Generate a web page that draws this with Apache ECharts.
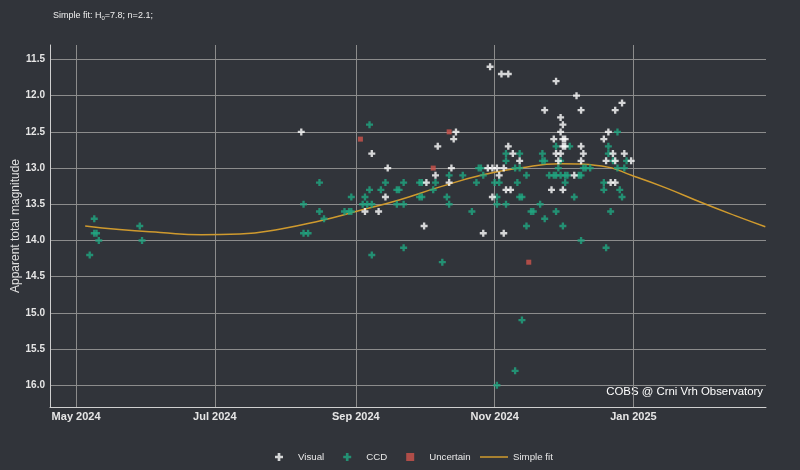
<!DOCTYPE html>
<html>
<head>
<meta charset="utf-8">
<script src="https://cdn.jsdelivr.net/npm/echarts@6/dist/echarts.min.js"></script>
<style>
html,body{margin:0;padding:0;background:#31343a;}
#chart{width:800px;height:470px;}
</style>
</head>
<body>
<div id="chart"></div>
<script>
// ---- Data ----
const visual = [
  ['2024-08-08',12.5],['2024-09-08',12.8],['2024-09-15',13.0],['2024-09-14',13.4],['2024-09-11',13.6],
  ['2024-09-05',13.6],['2024-10-01',13.8],['2024-10-07',12.7],['2024-10-06',13.1],['2024-10-12',13.2],
  ['2024-10-13',13.0],['2024-10-14',12.6],['2024-10-15',12.5],['2024-10-02',13.2],['2024-10-30',11.6],
  ['2024-11-04',11.7],['2024-11-07',11.7],['2024-11-28',11.8],['2024-12-07',12.0],['2024-12-27',12.1],
  ['2024-11-23',12.2],['2024-12-09',12.2],['2024-12-24',12.2],['2024-11-30',12.3],['2024-12-01',12.4],
  ['2024-11-30',12.5],['2024-12-21',12.5],['2024-11-27',12.6],['2024-12-01',12.6],['2024-12-02',12.6],
  ['2024-12-19',12.6],['2024-11-07',12.7],['2024-12-01',12.7],['2024-12-02',12.7],['2024-12-09',12.7],
  ['2024-11-09',12.8],['2024-11-28',12.8],['2024-11-30',12.8],['2024-12-10',12.8],['2024-12-23',12.8],
  ['2024-12-28',12.8],['2024-11-12',12.9],['2024-11-29',12.9],['2024-12-09',12.9],['2024-12-20',12.9],
  ['2024-12-24',12.9],['2024-12-31',12.9],['2024-10-29',13.0],['2024-10-31',13.0],['2024-11-02',13.0],
  ['2024-11-05',13.0],['2024-11-03',13.1],['2024-12-06',13.1],['2024-11-06',13.3],['2024-11-08',13.3],
  ['2024-11-26',13.3],['2024-12-01',13.3],['2024-12-22',13.2],['2024-12-24',13.2],['2024-10-31',13.4],
  ['2024-10-27',13.9],['2024-11-05',13.9]
];
const ccd = [
  ['2024-05-09',13.7],['2024-05-09',13.9],['2024-05-10',13.9],['2024-05-11',14.0],['2024-05-07',14.2],
  ['2024-05-29',13.8],['2024-05-30',14.0],['2024-09-07',12.4],['2024-08-16',13.2],['2024-08-09',13.5],
  ['2024-08-16',13.6],['2024-08-18',13.7],['2024-08-09',13.9],['2024-08-11',13.9],['2024-08-30',13.4],
  ['2024-08-27',13.6],['2024-08-29',13.6],['2024-08-30',13.6],['2024-09-04',13.5],['2024-09-06',13.5],
  ['2024-09-08',13.5],['2024-09-05',13.4],['2024-09-07',13.3],['2024-09-12',13.3],['2024-09-14',13.2],
  ['2024-09-19',13.3],['2024-09-20',13.3],['2024-09-22',13.2],['2024-09-19',13.5],['2024-09-22',13.5],
  ['2024-09-29',13.4],['2024-09-30',13.4],['2024-09-29',13.2],['2024-09-30',13.2],['2024-10-06',13.2],
  ['2024-10-05',13.3],['2024-10-12',13.1],['2024-10-18',13.1],['2024-10-25',13.0],['2024-10-24',13.2],
  ['2024-10-11',13.4],['2024-10-12',13.5],['2024-10-22',13.6],['2024-09-22',14.1],['2024-09-08',14.2],
  ['2024-10-09',14.3],['2024-11-13',15.1],['2024-11-10',15.8],['2024-11-02',16.0],['2024-12-25',12.5],
  ['2024-12-21',12.7],['2024-11-06',12.8],['2024-11-12',12.8],['2024-11-22',12.8],['2024-12-21',12.8],
  ['2024-11-06',12.9],['2024-11-22',12.9],['2024-11-23',12.9],['2024-11-30',12.9],['2024-12-23',12.9],
  ['2024-12-29',12.9],['2024-11-28',12.7],['2024-12-04',12.7],['2024-10-26',13.0],['2024-11-10',13.0],
  ['2024-11-12',13.0],['2024-11-29',13.0],['2024-12-10',13.0],['2024-12-11',13.0],['2024-12-13',13.0],
  ['2024-12-25',13.0],['2024-12-28',13.0],['2024-10-27',13.1],['2024-11-15',13.1],['2024-11-25',13.1],
  ['2024-11-27',13.1],['2024-11-28',13.1],['2024-11-30',13.1],['2024-12-02',13.1],['2024-12-03',13.1],
  ['2024-12-08',13.1],['2024-12-09',13.1],['2024-11-01',13.2],['2024-11-03',13.2],['2024-11-11',13.2],
  ['2024-12-02',13.2],['2024-12-19',13.2],['2024-11-02',13.4],['2024-11-12',13.4],['2024-11-13',13.4],
  ['2024-12-06',13.4],['2024-12-19',13.3],['2024-12-26',13.3],['2024-12-27',13.4],['2024-11-02',13.5],
  ['2024-11-06',13.5],['2024-11-21',13.5],['2024-11-17',13.6],['2024-11-18',13.6],['2024-11-28',13.6],
  ['2024-12-22',13.6],['2024-11-23',13.7],['2024-11-15',13.8],['2024-12-01',13.8],['2024-12-09',14.0],
  ['2024-12-20',14.1]
];
const uncertain = [
  ['2024-09-03',12.6],['2024-10-12',12.5],['2024-10-05',13.0],['2024-11-16',14.3]
];
const simpleFit = [
  ['2024-05-05',13.80],['2024-05-20',13.85],['2024-06-07',13.89],['2024-06-25',13.92],['2024-07-12',13.91],
  ['2024-07-30',13.84],['2024-08-16',13.73],['2024-09-01',13.60],['2024-09-20',13.44],['2024-10-08',13.26],
  ['2024-10-26',13.10],['2024-11-12',13.00],['2024-11-30',12.94],['2024-12-18',12.97],['2025-01-01',13.11],
  ['2025-01-15',13.27],['2025-02-01',13.49],['2025-02-15',13.66],['2025-02-28',13.81]
];
const monthNames = ['Jan','Feb','Mar','Apr','May','Jun','Jul','Aug','Sep','Oct','Nov','Dec'];
const titleText = 'Simple fit: H{sub|0}=7.8; n=2.1;';
const creditText = 'COBS @ Crni Vrh Observatory';

// ---- Chart ----
const plus = 'path://M2,0H4V2H6V4H4V6H2V4H0V2H2Z';
const square = 'path://M0,0H6V6H0Z';
const lineIcon = 'path://M0,0H0.01V0.01H0Z M0,3.3H28V4.7H0Z M27.99,7.99H28V8H27.99Z';
const FONT = 'Liberation Sans, Arial, sans-serif';
const legendText = {color:'#e8e8e8', fontSize: 9.7, fontFamily: FONT};
const chart = echarts.init(document.getElementById('chart'), null, {renderer:'canvas'});
chart.setOption({
  backgroundColor: '#31343a',
  animation: false,
  textStyle: {fontFamily: FONT},
  title: {text: titleText, left: 48, top: 6,
    textStyle: {color:'#f0f0f0', fontSize: 9, fontWeight:'normal', fontFamily: FONT,
      rich: {sub: {fontSize: 6, verticalAlign: 'bottom', padding: [4,0,0,0], color:'#f0f0f0'}}}},
  grid: {left: 50, right: 34, top: 45, bottom: 63, containLabel: false, outerBoundsMode: 'none'},
  legend: [{
    left: 270, top: 447, itemWidth: 28, itemHeight: 8, itemGap: 19,
    textStyle: legendText,
    data: ['Visual','CCD','Uncertain']
  }, {
    left: 475, top: 447, itemWidth: 28, itemHeight: 8,
    textStyle: legendText,
    data: [{name:'Simple fit', icon: lineIcon}]
  }],
  xAxis: {
    type: 'time',
    min: '2024-04-19 13:00', max: '2025-02-28 07:00',
    splitNumber: 5,
    axisLine: {show: true, lineStyle: {color:'#cfcfcf', width: 1}},
    axisTick: {show: false},
    axisLabel: {color:'#e6e6e6', fontSize: 11, fontWeight:'bold', margin: 4, fontFamily: FONT,
      formatter: function (v) { const d = new Date(v); return monthNames[d.getMonth()] + ' ' + d.getFullYear(); }},
    splitLine: {show: true, showMinLine: false, showMaxLine: false, lineStyle: {color:'#8c8c8c', width: 1}}
  },
  yAxis: {
    type: 'value', inverse: true, min: 11.3, max: 16.3, splitNumber: 10,
    name: 'Apparent total magnitude', nameLocation: 'middle', nameGap: 28, nameMoveOverlap: false,
    nameTextStyle: {color:'#e0e0e0', fontSize: 12, fontFamily: FONT},
    axisLine: {show: true, lineStyle: {color:'#cfcfcf', width: 1}},
    axisTick: {show: false},
    axisLabel: {color:'#e6e6e6', fontSize: 10, fontWeight:'bold', margin: 5, fontFamily: FONT,
      showMinLabel: false, showMaxLabel: false,
      formatter: function (v) { return Math.abs(v*2 - Math.round(v*2)) < 1e-6 ? v.toFixed(1) : ''; }},
    splitLine: {show: true, showMinLine: false, showMaxLine: false, lineStyle: {color:'#8c8c8c', width: 1}}
  },
  graphic: [{
    type: 'text', right: 37, top: 386,
    style: {text: creditText, fill: '#ffffff', font: '11.4px ' + FONT}
  }],
  series: [
    {name:'Visual', type:'scatter', data: visual, symbol: plus, symbolSize: 7,
      itemStyle: {color:'#ffffff'}, z: 3},
    {name:'CCD', type:'scatter', data: ccd, symbol: plus, symbolSize: 7,
      itemStyle: {color:'#21a882'}, z: 2},
    {name:'Uncertain', type:'scatter', data: uncertain, symbol: square, symbolSize: 5,
      symbolKeepAspect: true, itemStyle: {color:'#d0544c'}, z: 4},
    {name:'Simple fit', type:'line', data: simpleFit, smooth: true, symbol: 'none',
      lineStyle: {color:'#cf9a2e', width: 1.5}, itemStyle: {color:'#cf9a2e'}, z: 2}
  ]
});
</script>
</body>
</html>
